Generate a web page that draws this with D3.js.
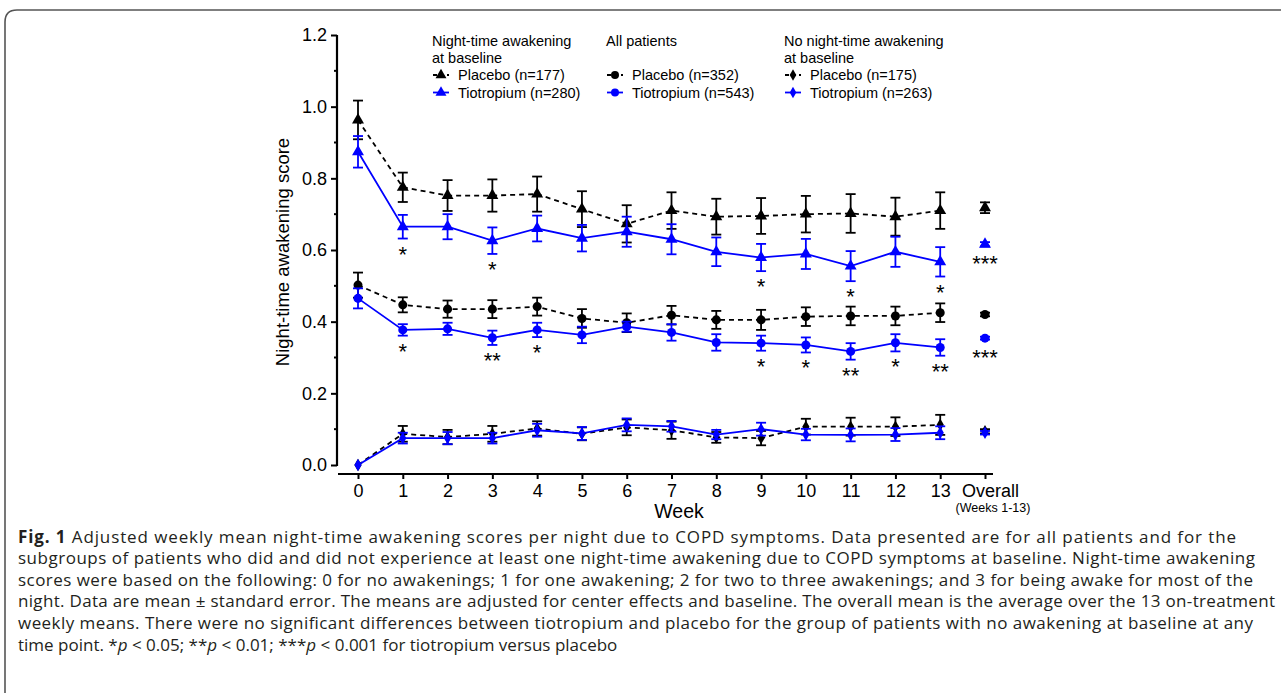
<!DOCTYPE html>
<html>
<head>
<meta charset="utf-8">
<script src="https://cdn.jsdelivr.net/npm/d3@7"></script>
<style>
  body { margin: 0; background: #ffffff; }
  svg { display: block; }
</style>
</head>
<body>
<div id="chart"></div>
<script>
// Weeks on the x axis (last one is the overall mean).
const weeks = ['0', '1', '2', '3', '4', '5', '6', '7', '8', '9', '10', '11', '12', '13', 'Overall'];
const yTicks = [0, 0.2, 0.4, 0.6, 0.8, 1.0, 1.2];

// Night-time awakening at baseline.
const nightPlacebo   = [0.963, 0.775, 0.752, 0.752, 0.756, 0.714, 0.673, 0.710, 0.693, 0.695, 0.700, 0.702, 0.693, 0.710, 0.718];
const nightPlaceboSE = [0.054, 0.041, 0.043, 0.045, 0.049, 0.050, 0.052, 0.051, 0.050, 0.050, 0.051, 0.054, 0.053, 0.051, 0.015];
const nightTio       = [0.874, 0.665, 0.665, 0.626, 0.660, 0.633, 0.651, 0.630, 0.595, 0.579, 0.589, 0.555, 0.595, 0.567, 0.616];
const nightTioSE     = [0.044, 0.033, 0.035, 0.037, 0.036, 0.037, 0.042, 0.042, 0.040, 0.038, 0.042, 0.042, 0.042, 0.041, 0.006];
const nightTioStars  = ['', '*', '', '*', '', '', '', '', '', '*', '', '*', '', '*', '***'];

// All patients.
const allPlacebo   = [0.502, 0.447, 0.435, 0.435, 0.442, 0.409, 0.397, 0.418, 0.405, 0.405, 0.414, 0.416, 0.416, 0.425, 0.420];
const allPlaceboSE = [0.035, 0.021, 0.024, 0.025, 0.025, 0.026, 0.026, 0.026, 0.025, 0.028, 0.026, 0.026, 0.026, 0.026, 0.005];
const allTio       = [0.465, 0.377, 0.380, 0.355, 0.377, 0.363, 0.386, 0.370, 0.342, 0.340, 0.335, 0.317, 0.341, 0.328, 0.354];
const allTioSE     = [0.028, 0.016, 0.017, 0.020, 0.020, 0.023, 0.014, 0.023, 0.023, 0.021, 0.021, 0.023, 0.024, 0.023, 0.004];
const allTioStars  = ['', '*', '', '**', '*', '', '', '', '', '*', '*', '**', '*', '**', '***'];

// No night-time awakening at baseline.
const noPlacebo   = [0.000, 0.087, 0.078, 0.087, 0.102, 0.087, 0.105, 0.097, 0.077, 0.075, 0.107, 0.107, 0.107, 0.112, 0.094];
const noPlaceboSE = [0.000, 0.022, 0.020, 0.022, 0.020, 0.018, 0.022, 0.024, 0.015, 0.020, 0.022, 0.025, 0.026, 0.028, 0.006];
const noTio       = [0.000, 0.075, 0.075, 0.075, 0.097, 0.088, 0.112, 0.108, 0.085, 0.100, 0.085, 0.084, 0.085, 0.090, 0.090];
const noTioSE     = [0.000, 0.015, 0.017, 0.015, 0.018, 0.018, 0.018, 0.015, 0.013, 0.018, 0.016, 0.018, 0.018, 0.018, 0.005];

const captionLines = [
  'Adjusted weekly mean night-time awakening scores per night due to COPD symptoms. Data presented are for all patients and for the',
  'subgroups of patients who did and did not experience at least one night-time awakening due to COPD symptoms at baseline. Night-time awakening',
  'scores were based on the following: 0 for no awakenings; 1 for one awakening; 2 for two to three awakenings; and 3 for being awake for most of the',
  'night. Data are mean \u00b1 standard error. The means are adjusted for center effects and baseline. The overall mean is the average over the 13 on-treatment',
  'weekly means. There were no significant differences between tiotropium and placebo for the group of patients with no awakening at baseline at any',
];

const BLUE = '#0000ff';
const FONT = '"Liberation Sans", Arial, Helvetica, sans-serif';

const svg = d3.select('#chart')
  .append('svg')
  .attr('width', 1281)
  .attr('height', 693);

// Figure frame (only top and left edges visible).
svg.append('path')
  .attr('d', 'M5,700 L5,22 Q5,10 17,10 L1290,10')
  .attr('fill', 'none')
  .attr('stroke', '#555555')
  .attr('stroke-width', 1.6);

const x = d3.scalePoint().domain(weeks).range([358, 985]);
const y = d3.scaleLinear().domain([0, 1.2]).range([465, 35]);

// Y axis.
const yAxis = svg.append('g')
  .attr('transform', 'translate(337,0)')
  .call(d3.axisLeft(y).tickValues(yTicks).tickFormat(d3.format('.1f')).tickSize(6).tickSizeOuter(0).tickPadding(4));
yAxis.select('.domain').attr('stroke-width', 2.2).attr('d', 'M0,' + y(1.2) + 'V' + (y(0) + 1));
yAxis.selectAll('.tick line').attr('stroke-width', 2);
yAxis.selectAll('.tick text').attr('font-family', FONT).attr('font-size', 18).attr('fill', '#000');
yAxis.selectAll('.minor')
  .data([0.1, 0.3, 0.5, 0.7, 0.9, 1.1])
  .join('line')
  .attr('class', 'minor')
  .attr('x1', -3).attr('x2', 0)
  .attr('y1', (d) => y(d)).attr('y2', (d) => y(d))
  .attr('stroke', '#000').attr('stroke-width', 2);

// X axis.
const xAxis = svg.append('g')
  .attr('transform', 'translate(0,474)')
  .call(d3.axisBottom(x).tickSize(5).tickSizeOuter(0).tickPadding(5));
xAxis.select('.domain').attr('stroke-width', 2.2).attr('d', 'M338,0H993');
xAxis.selectAll('.tick line').attr('stroke-width', 2);
xAxis.selectAll('.tick text').attr('font-family', FONT).attr('font-size', 18).attr('fill', '#000');
xAxis.selectAll('.tick text').filter((d) => d === 'Overall').attr('dx', 5);

svg.append('text')
  .attr('x', x('Overall') + 8)
  .attr('y', 512)
  .attr('text-anchor', 'middle')
  .attr('font-family', FONT)
  .attr('font-size', 12.5)
  .text('(Weeks 1-13)');

svg.append('text')
  .attr('x', 679)
  .attr('y', 518)
  .attr('text-anchor', 'middle')
  .attr('font-family', FONT)
  .attr('font-size', 19.5)
  .text('Week');

svg.append('text')
  .attr('transform', 'translate(289,252) rotate(-90)')
  .attr('text-anchor', 'middle')
  .attr('font-family', FONT)
  .attr('font-size', 18.5)
  .text('Night-time awakening score');

// Series.
const series = [
  { mean: nightPlacebo, se: nightPlaceboSE, stars: null, shape: d3.symbolTriangle, size: 62, color: '#000', dash: '5,4' },
  { mean: nightTio, se: nightTioSE, stars: nightTioStars, shape: d3.symbolTriangle, size: 62, color: BLUE, dash: null },
  { mean: allPlacebo, se: allPlaceboSE, stars: null, shape: d3.symbolCircle, size: 64, color: '#000', dash: '5,4' },
  { mean: allTio, se: allTioSE, stars: allTioStars, shape: d3.symbolCircle, size: 64, color: BLUE, dash: null },
  { mean: noPlacebo, se: noPlaceboSE, stars: null, shape: d3.symbolDiamond, size: 45, color: '#000', dash: '5,4' },
  { mean: noTio, se: noTioSE, stars: null, shape: d3.symbolDiamond, size: 45, color: BLUE, dash: null },
];

const line = d3.line()
  .x((d) => x(d.week))
  .y((d) => y(d.value));

series.forEach((s) => {
  const pts = weeks.map((w, i) => ({ week: w, value: s.mean[i], se: s.se[i], star: s.stars ? s.stars[i] : '' }));
  const g = svg.append('g');

  g.append('path')
    .datum(pts.filter((d) => d.week !== 'Overall'))
    .attr('d', line)
    .attr('fill', 'none')
    .attr('stroke', s.color)
    .attr('stroke-width', 1.8)
    .attr('stroke-dasharray', s.dash);

  const bars = g.selectAll('.err')
    .data(pts.filter((d) => d.se > 0))
    .join('g')
    .attr('class', 'err')
    .attr('stroke', s.color)
    .attr('stroke-width', 1.8);
  bars.append('line')
    .attr('x1', (d) => x(d.week)).attr('x2', (d) => x(d.week))
    .attr('y1', (d) => y(d.value - d.se)).attr('y2', (d) => y(d.value + d.se));
  bars.append('line')
    .attr('x1', (d) => x(d.week) - 5).attr('x2', (d) => x(d.week) + 5)
    .attr('y1', (d) => y(d.value + d.se)).attr('y2', (d) => y(d.value + d.se));
  bars.append('line')
    .attr('x1', (d) => x(d.week) - 5).attr('x2', (d) => x(d.week) + 5)
    .attr('y1', (d) => y(d.value - d.se)).attr('y2', (d) => y(d.value - d.se));

  g.selectAll('.pt')
    .data(pts)
    .join('path')
    .attr('class', 'pt')
    .attr('transform', (d) => 'translate(' + x(d.week) + ',' + y(d.value) + ')')
    .attr('d', d3.symbol().type(s.shape).size(s.size))
    .attr('fill', s.color);

  g.selectAll('.star')
    .data(pts.filter((d) => d.star))
    .join('text')
    .attr('class', 'star')
    .attr('x', (d) => x(d.week))
    .attr('y', (d) => d.week === 'Overall' ? y(d.value) + 27 : y(d.value - d.se) + 23)
    .attr('text-anchor', 'middle')
    .attr('font-family', FONT)
    .attr('font-size', 22)
    .attr('fill', '#000')
    .text((d) => d.star);
});

// Legend.
const legendCols = [
  { x: 432, title: ['Night-time awakening', 'at baseline'], shape: d3.symbolTriangle, size: 52, n: ['177', '280'] },
  { x: 606, title: ['All patients'], shape: d3.symbolCircle, size: 50, n: ['352', '543'] },
  { x: 784, title: ['No night-time awakening', 'at baseline'], shape: d3.symbolDiamond, size: 38, n: ['175', '263'] },
];

legendCols.forEach((c) => {
  const g = svg.append('g').attr('font-family', FONT).attr('font-size', 14.5).attr('fill', '#000');
  c.title.forEach((t, i) => {
    g.append('text').attr('x', c.x).attr('y', 46 + i * 16.5).text(t);
  });
  [['Placebo', '#000', '4,3'], ['Tiotropium', BLUE, null]].forEach((row, i) => {
    const cy = 75 + i * 17.5;
    g.append('line')
      .attr('x1', c.x + 1).attr('x2', c.x + 17)
      .attr('y1', cy).attr('y2', cy)
      .attr('stroke', row[1])
      .attr('stroke-width', 1.8)
      .attr('stroke-dasharray', row[2]);
    g.append('path')
      .attr('transform', 'translate(' + (c.x + 9) + ',' + cy + ')')
      .attr('d', d3.symbol().type(c.shape).size(c.size))
      .attr('fill', row[1]);
    g.append('text')
      .attr('x', c.x + 26)
      .attr('y', cy + 5)
      .text(row[0] + ' (n=' + c.n[i] + ')');
  });
});

// Caption.
const capFont = '"Open Sans", "Noto Sans", sans-serif';
const capEnds = [1236, 1255, 1253, 1275, 1253];
const capTop = 542.5;
const capStep = 21.6;
const cap = svg.append('g')
  .attr('font-family', capFont)
  .attr('font-size', 17)
  .attr('fill', '#231f20');

const first = cap.append('text').attr('x', 18).attr('y', capTop)
  .attr('textLength', capEnds[0] - 18).attr('lengthAdjust', 'spacing');
first.append('tspan').attr('font-weight', 'bold').text('Fig. 1');
first.append('tspan').text(' ' + captionLines[0]);

captionLines.slice(1).forEach((t, i) => {
  cap.append('text')
    .attr('x', 18)
    .attr('y', capTop + (i + 1) * capStep)
    .attr('textLength', capEnds[i + 1] - 18)
    .attr('lengthAdjust', 'spacing')
    .text(t);
});

const last = cap.append('text').attr('x', 18).attr('y', capTop + 5 * capStep);
last.append('tspan').text('time point. *');
last.append('tspan').attr('font-style', 'italic').text('p');
last.append('tspan').text(' < 0.05; **');
last.append('tspan').attr('font-style', 'italic').text('p');
last.append('tspan').text(' < 0.01; ***');
last.append('tspan').attr('font-style', 'italic').text('p');
last.append('tspan').text(' < 0.001 for tiotropium versus placebo');
</script>
</body>
</html>
